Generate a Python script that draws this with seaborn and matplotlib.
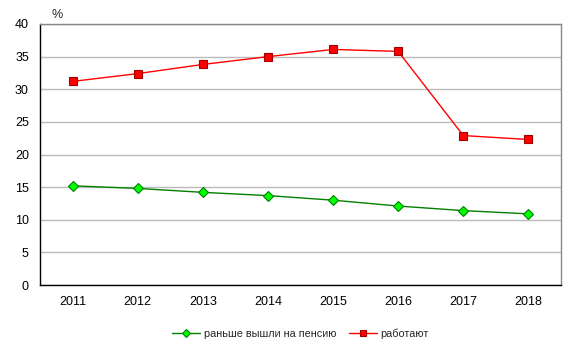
import matplotlib
matplotlib.use("Agg")
import matplotlib.pyplot as plt
import seaborn as sns
import pandas as pd

years = ["2011", "2012", "2013", "2014", "2015", "2016", "2017", "2018"]
retired_early = [15.2, 14.8, 14.2, 13.7, 13.0, 12.1, 11.4, 10.9]
working = [31.2, 32.4, 33.8, 35.0, 36.1, 35.8, 22.9, 22.3]
label_retired = "раньше вышли на пенсию"
label_working = "работают"

sns.set_theme(style="white")
plt.rcParams['font.family'] = ['Liberation Sans', 'DejaVu Sans']

df = pd.DataFrame({
    "year": years * 2,
    "value": retired_early + working,
    "series": [label_retired] * len(years) + [label_working] * len(years),
})

fig = plt.figure(figsize=(5.76, 3.5), dpi=100)
ax = fig.add_axes([40/576, 1 - 285/350, 521/576, 261/350])

sns.lineplot(data=df[df.series == label_retired], x="year", y="value", ax=ax,
             color="#008000", lw=1, marker="D", markersize=5.5,
             markerfacecolor="#00FF00", markeredgecolor="#008000", markeredgewidth=0.8,
             label=label_retired, sort=False)
sns.lineplot(data=df[df.series == label_working], x="year", y="value", ax=ax,
             color="#FF0000", lw=1, marker="s", markersize=5.5,
             markerfacecolor="#FF0000", markeredgecolor="#A00000", markeredgewidth=0.8,
             label=label_working, sort=False)

ax.set_xlim(-0.5, 7.5)
ax.set_ylim(0, 40)
ax.set_yticks(range(0, 41, 5))
ax.yaxis.grid(True, color="#BBBBBB", lw=1)
ax.set_xlabel("")
ax.set_ylabel("")
ax.tick_params(axis="both", length=0, labelsize=9, colors="black", pad=8)
for s in ["left", "bottom"]:
    ax.spines[s].set_color("black")
    ax.spines[s].set_linewidth(1)
for s in ["top", "right"]:
    ax.spines[s].set_color("#888888")
    ax.spines[s].set_linewidth(1)

fig.text(57/576, 1 - 15/350, "%", fontsize=9, ha="center", va="center")

leg = ax.legend(loc="center", bbox_to_anchor=(0.5, -0.185), ncol=2, frameon=False,
                fontsize=7.8, handlelength=2.6, columnspacing=1.2, handletextpad=0.3)
for h in leg.legend_handles:
    h.set_markersize(4)

fig.savefig("out.png", dpi=100)
